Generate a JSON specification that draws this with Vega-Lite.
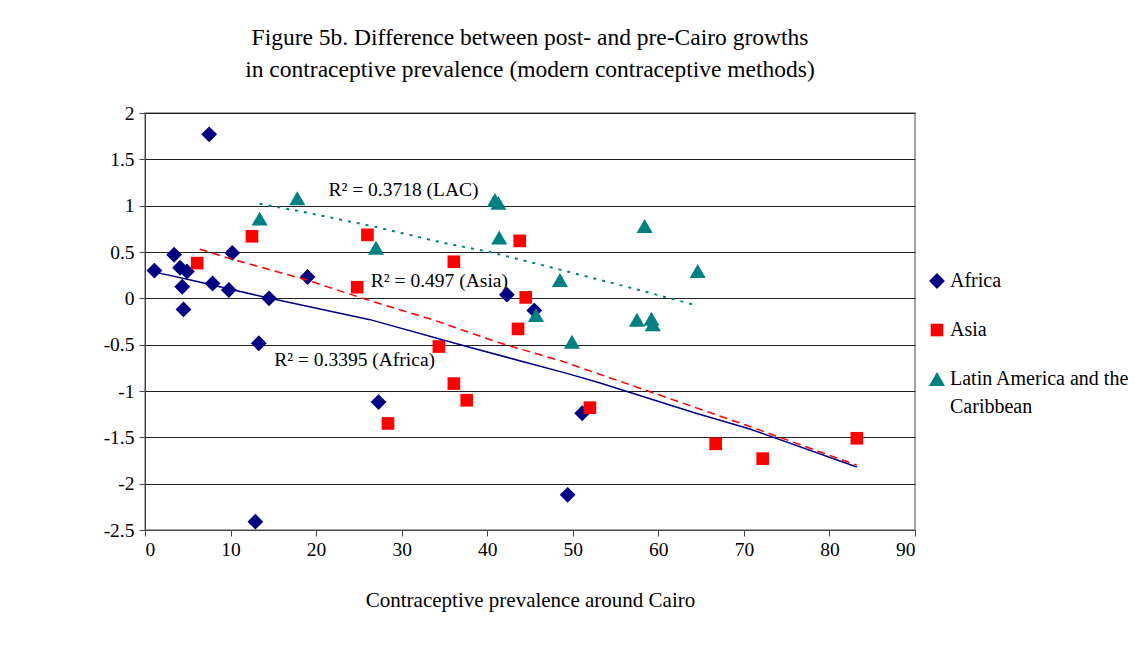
{
  "$schema": "https://vega.github.io/schema/vega-lite/v6.json",
  "width": 770,
  "height": 417,
  "autosize": {"type": "none"},
  "padding": {"left": 145, "top": 113, "right": 220, "bottom": 126},
  "background": "white",
  "title": {
    "text": ["Figure 5b. Difference between post- and pre-Cairo growths", "in contraceptive prevalence (modern contraceptive methods)"],
    "font": "Liberation Serif",
    "fontSize": 23.5,
    "fontWeight": "normal",
    "lineHeight": 32,
    "offset": 22,
    "anchor": "middle",
    "color": "black"
  },
  "config": {
    "view": {"stroke": "#888888", "strokeWidth": 1.5},
    "style": {"guide-label": {"lineHeight": 28}},
    "axis": {
      "labelFont": "Liberation Serif",
      "labelFontSize": 19.5,
      "labelColor": "black",
      "titleFont": "Liberation Serif",
      "titleFontSize": 21,
      "titleFontWeight": "normal",
      "titleColor": "black",
      "domainColor": "#444444",
      "tickColor": "#444444",
      "tickSize": 6,
      "gridColor": "#222222",
      "gridWidth": 1
    },
    "legend": {
      "labelFont": "Liberation Serif",
      "labelFontSize": 20,
      "labelColor": "black",
      "labelLimit": 300
    }
  },
  "datasets": {
    "points": [
      {"region": "Africa", "prevalence": 1.1, "difference": 0.3},
      {"region": "Africa", "prevalence": 3.4, "difference": 0.47},
      {"region": "Africa", "prevalence": 4.1, "difference": 0.33},
      {"region": "Africa", "prevalence": 4.9, "difference": 0.29},
      {"region": "Africa", "prevalence": 4.35, "difference": 0.125},
      {"region": "Africa", "prevalence": 4.5, "difference": -0.12},
      {"region": "Africa", "prevalence": 7.5, "difference": 1.77},
      {"region": "Africa", "prevalence": 7.9, "difference": 0.16},
      {"region": "Africa", "prevalence": 9.8, "difference": 0.09},
      {"region": "Africa", "prevalence": 10.2, "difference": 0.49},
      {"region": "Africa", "prevalence": 14.5, "difference": 0.0},
      {"region": "Africa", "prevalence": 19.0, "difference": 0.23},
      {"region": "Africa", "prevalence": 13.3, "difference": -0.485},
      {"region": "Africa", "prevalence": 27.3, "difference": -1.12},
      {"region": "Africa", "prevalence": 12.9, "difference": -2.41},
      {"region": "Africa", "prevalence": 42.3, "difference": 0.04},
      {"region": "Africa", "prevalence": 45.5, "difference": -0.13},
      {"region": "Africa", "prevalence": 51.1, "difference": -1.24},
      {"region": "Africa", "prevalence": 49.4, "difference": -2.12},
      {"region": "Asia", "prevalence": 6.1, "difference": 0.38},
      {"region": "Asia", "prevalence": 12.5, "difference": 0.67},
      {"region": "Asia", "prevalence": 26.0, "difference": 0.685},
      {"region": "Asia", "prevalence": 24.8, "difference": 0.12},
      {"region": "Asia", "prevalence": 43.8, "difference": 0.62},
      {"region": "Asia", "prevalence": 36.1, "difference": 0.395},
      {"region": "Asia", "prevalence": 44.5, "difference": 0.01},
      {"region": "Asia", "prevalence": 43.6, "difference": -0.33},
      {"region": "Asia", "prevalence": 34.35, "difference": -0.52},
      {"region": "Asia", "prevalence": 36.1, "difference": -0.92},
      {"region": "Asia", "prevalence": 37.6, "difference": -1.1},
      {"region": "Asia", "prevalence": 28.4, "difference": -1.35},
      {"region": "Asia", "prevalence": 52.0, "difference": -1.18},
      {"region": "Asia", "prevalence": 66.7, "difference": -1.57},
      {"region": "Asia", "prevalence": 72.2, "difference": -1.73},
      {"region": "Asia", "prevalence": 83.2, "difference": -1.51},
      {"region": "Latin America and the Caribbean", "prevalence": 13.4, "difference": 0.86},
      {"region": "Latin America and the Caribbean", "prevalence": 17.8, "difference": 1.08},
      {"region": "Latin America and the Caribbean", "prevalence": 27.0, "difference": 0.545},
      {"region": "Latin America and the Caribbean", "prevalence": 40.9, "difference": 1.06},
      {"region": "Latin America and the Caribbean", "prevalence": 41.3, "difference": 1.03},
      {"region": "Latin America and the Caribbean", "prevalence": 41.4, "difference": 0.657},
      {"region": "Latin America and the Caribbean", "prevalence": 48.5, "difference": 0.197},
      {"region": "Latin America and the Caribbean", "prevalence": 45.7, "difference": -0.18},
      {"region": "Latin America and the Caribbean", "prevalence": 49.9, "difference": -0.468},
      {"region": "Latin America and the Caribbean", "prevalence": 58.4, "difference": 0.78},
      {"region": "Latin America and the Caribbean", "prevalence": 64.6, "difference": 0.294},
      {"region": "Latin America and the Caribbean", "prevalence": 57.5, "difference": -0.23},
      {"region": "Latin America and the Caribbean", "prevalence": 59.2, "difference": -0.22},
      {"region": "Latin America and the Caribbean", "prevalence": 59.35, "difference": -0.28}
    ],
    "trends": [
      {"trend": "Africa", "prevalence": 1.3, "fit": 0.28},
      {"trend": "Africa", "prevalence": 5.2, "fit": 0.2},
      {"trend": "Africa", "prevalence": 14.6, "fit": 0.0},
      {"trend": "Africa", "prevalence": 26.3, "fit": -0.23},
      {"trend": "Africa", "prevalence": 37.6, "fit": -0.52},
      {"trend": "Africa", "prevalence": 49.3, "fit": -0.81},
      {"trend": "Africa", "prevalence": 53.1, "fit": -0.91},
      {"trend": "Africa", "prevalence": 64.4, "fit": -1.24},
      {"trend": "Africa", "prevalence": 70.7, "fit": -1.41},
      {"trend": "Africa", "prevalence": 83.2, "fit": -1.82},
      {"trend": "Asia", "prevalence": 6.4, "fit": 0.53},
      {"trend": "Asia", "prevalence": 9.9, "fit": 0.43},
      {"trend": "Asia", "prevalence": 18.8, "fit": 0.2},
      {"trend": "Asia", "prevalence": 26.8, "fit": -0.04},
      {"trend": "Asia", "prevalence": 33.6, "fit": -0.23},
      {"trend": "Asia", "prevalence": 41.4, "fit": -0.48},
      {"trend": "Asia", "prevalence": 48.8, "fit": -0.68},
      {"trend": "Asia", "prevalence": 70.3, "fit": -1.37},
      {"trend": "Asia", "prevalence": 83.2, "fit": -1.8},
      {"trend": "LAC", "prevalence": 13.4, "fit": 1.02},
      {"trend": "LAC", "prevalence": 18.1, "fit": 0.94},
      {"trend": "LAC", "prevalence": 23.9, "fit": 0.83},
      {"trend": "LAC", "prevalence": 27.0, "fit": 0.77},
      {"trend": "LAC", "prevalence": 34.8, "fit": 0.6},
      {"trend": "LAC", "prevalence": 40.3, "fit": 0.5},
      {"trend": "LAC", "prevalence": 48.5, "fit": 0.31},
      {"trend": "LAC", "prevalence": 56.1, "fit": 0.13},
      {"trend": "LAC", "prevalence": 64.0, "fit": -0.065}
    ],
    "notes": [
      {"prevalence": 21.45, "difference": 1.167, "label": "R² = 0.3718 (LAC)"},
      {"prevalence": 26.4, "difference": 0.186, "label": "R² = 0.497 (Asia)"},
      {"prevalence": 15.1, "difference": -0.665, "label": "R² = 0.3395 (Africa)"}
    ]
  },
  "layer": [
    {
      "data": {"name": "points"},
      "mark": {"type": "point", "filled": true, "opacity": 1},
      "encoding": {
        "x": {
          "field": "prevalence",
          "type": "quantitative",
          "scale": {"domain": [0, 90], "nice": false},
          "axis": {
            "title": "Contraceptive prevalence around Cairo",
            "values": [0, 10, 20, 30, 40, 50, 60, 70, 80, 90],
            "grid": false,
            "labelPadding": 4,
            "titlePadding": 31
          }
        },
        "y": {
          "field": "difference",
          "type": "quantitative",
          "scale": {"domain": [-2.5, 2], "nice": false},
          "axis": {
            "title": null,
            "values": [-2.5, -2, -1.5, -1, -0.5, 0, 0.5, 1, 1.5, 2],
            "labelExpr": "toString(datum.value)",
            "grid": true,
            "labelPadding": 5
          }
        },
        "color": {
          "field": "region",
          "type": "nominal",
          "scale": {
            "domain": ["Africa", "Asia", "Latin America and the Caribbean"],
            "range": ["#000080", "#ff0000", "#008080"]
          },
          "legend": {
            "title": null,
            "orient": "none",
            "legendX": 782,
            "legendY": 158,
            "rowPadding": 29,
            "labelOffset": 3,
            "labelExpr": "datum.label == 'Latin America and the Caribbean' ? ['Latin America and the', 'Caribbean'] : datum.label"
          }
        },
        "shape": {
          "field": "region",
          "type": "nominal",
          "scale": {
            "domain": ["Africa", "Asia", "Latin America and the Caribbean"],
            "range": ["diamond", "square", "triangle-up"]
          }
        },
        "size": {
          "field": "region",
          "type": "nominal",
          "scale": {
            "type": "ordinal",
            "domain": ["Africa", "Asia", "Latin America and the Caribbean"],
            "range": [250, 160, 260]
          }
        },
        "order": {"field": "region"}
      }
    },
    {
      "data": {"name": "trends"},
      "transform": [{"filter": "datum.trend == 'Africa'"}],
      "mark": {"type": "line", "color": "#000080", "strokeWidth": 1.5},
      "encoding": {
        "x": {"field": "prevalence", "type": "quantitative"},
        "y": {"field": "fit", "type": "quantitative"}
      }
    },
    {
      "data": {"name": "trends"},
      "transform": [{"filter": "datum.trend == 'Asia'"}],
      "mark": {"type": "line", "color": "#ff0000", "strokeWidth": 1.5, "strokeDash": [8, 5]},
      "encoding": {
        "x": {"field": "prevalence", "type": "quantitative"},
        "y": {"field": "fit", "type": "quantitative"}
      }
    },
    {
      "data": {"name": "trends"},
      "transform": [{"filter": "datum.trend == 'LAC'"}],
      "mark": {"type": "line", "color": "#008080", "strokeWidth": 2, "strokeDash": [3, 6]},
      "encoding": {
        "x": {"field": "prevalence", "type": "quantitative"},
        "y": {"field": "fit", "type": "quantitative"}
      }
    },
    {
      "data": {"name": "notes"},
      "mark": {"type": "text", "align": "left", "baseline": "middle", "font": "Liberation Serif", "fontSize": 19.5, "color": "black"},
      "encoding": {
        "x": {"field": "prevalence", "type": "quantitative"},
        "y": {"field": "difference", "type": "quantitative"},
        "text": {"field": "label"}
      }
    }
  ]
}
